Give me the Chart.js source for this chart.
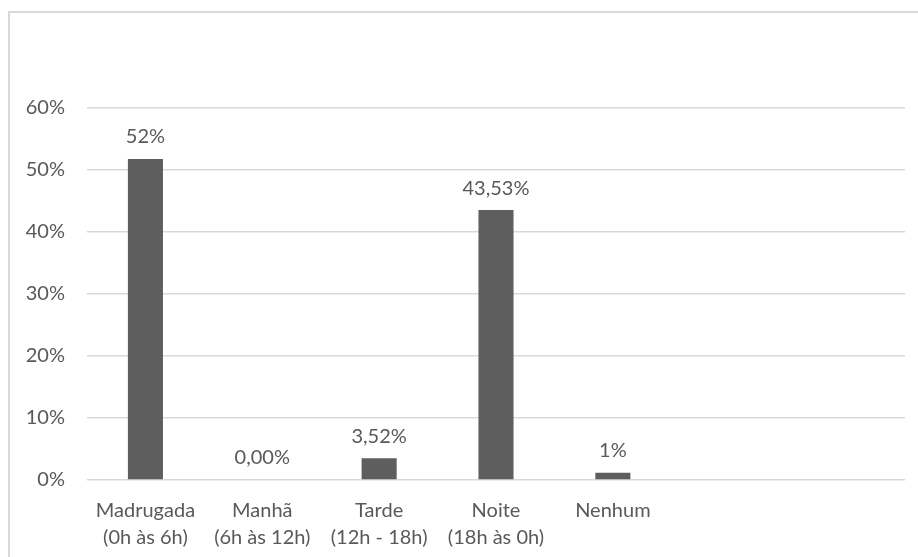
<!DOCTYPE html>
<html>
<head>
<meta charset="utf-8">
<script src="https://cdn.jsdelivr.net/npm/chart.js@4"></script>
<style>
  html, body { margin: 0; padding: 0; background: #fff; }
  #frame { position: absolute; left: 8px; top: 11px; width: 1000px; height: 700px;
           border-top: 2px solid #d9d9d9; border-left: 2px solid #d9d9d9; }
  #wrap { position: absolute; left: 0; top: 0; width: 918px; height: 557px; }
</style>
</head>
<body>
<div id="frame"></div>
<div id="wrap"><canvas id="chart"></canvas></div>
<script>
// categories (last two slots are empty in the source chart)
const categories = [
  ['Madrugada', '(0h às 6h)'],
  ['Manhã', '(6h às 12h)'],
  ['Tarde', '(12h - 18h)'],
  ['Noite', '(18h às 0h)'],
  'Nenhum',
  '',
  ''
];
const shares = [51.77, 0, 3.52, 43.53, 1.18, null, null];
const shareLabels = ['52%', '0,00%', '3,52%', '43,53%', '1%', '', ''];
const yTicks = [0, 10, 20, 30, 40, 50, 60];

const FONT = "Lato, 'Open Sans', sans-serif";
const TEXT = '#595959';

// value labels drawn above each bar
const barLabels = {
  id: 'barLabels',
  afterDatasetsDraw(chart) {
    const ctx = chart.ctx;
    const meta = chart.getDatasetMeta(0);
    ctx.save();
    ctx.font = '20px ' + FONT;
    ctx.fillStyle = TEXT;
    ctx.textAlign = 'center';
    ctx.textBaseline = 'middle';
    meta.data.forEach((bar, i) => {
      if (!shareLabels[i]) return;
      ctx.fillText(shareLabels[i], bar.x, bar.y - 22);
    });
    ctx.restore();
  }
};

new Chart(document.getElementById('chart'), {
  type: 'bar',
  data: {
    labels: categories,
    datasets: [{
      data: shares,
      backgroundColor: '#5e5e5e',
      borderWidth: 0,
      categoryPercentage: 1,
      barPercentage: 0.3,
    }],
  },
  options: {
    responsive: true,
    maintainAspectRatio: false,
    animation: false,
    layout: { padding: { top: 108, right: 13, bottom: 0, left: 0 } },
    plugins: { legend: { display: false }, tooltip: { enabled: false } },
    scales: {
      x: {
        afterFit: (s) => { s.height = 77; },
        grid: { display: false },
        border: { display: false },
        ticks: { color: TEXT, font: { family: FONT, size: 20, lineHeight: 1.35 }, padding: 9, maxRotation: 0, autoSkip: false },
      },
      y: {
        min: 0,
        max: 60,
        afterBuildTicks: (s) => { s.ticks = yTicks.map(v => ({ value: v })); },
        afterFit: (s) => { s.width = 87; },
        grid: { color: '#d9d9d9', lineWidth: 1.5, drawTicks: false },
        border: { display: false },
        ticks: { color: TEXT, font: { family: FONT, size: 20 }, padding: 22, callback: (v) => v + '%' },
      },
    },
  },
  plugins: [barLabels],
});
</script>
</body>
</html>
